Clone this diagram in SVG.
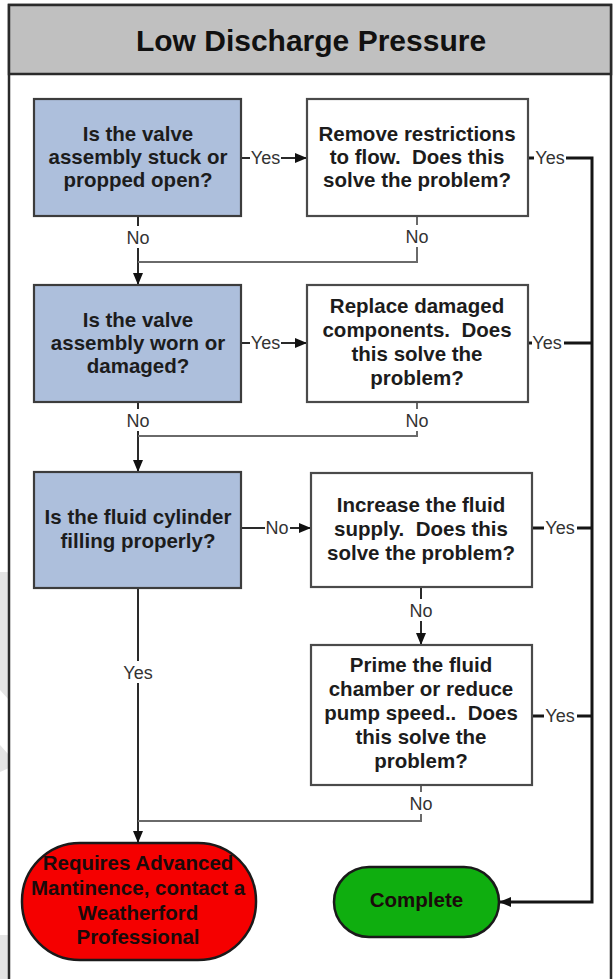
<svg xmlns="http://www.w3.org/2000/svg" width="613" height="979" viewBox="0 0 613 979">
  <defs>
    <style>
      .frame { fill: #ffffff; stroke: #2a2a2a; stroke-width: 2.5; }
      .header { fill: #c0c0c0; stroke: #2a2a2a; stroke-width: 2.5; }
      .title { font-family: "Liberation Sans", Arial, sans-serif; font-weight: bold; font-size: 30px; fill: #111; text-anchor: middle; }
      .q { fill: #adbfdc; stroke: #3c3c3c; stroke-width: 2.2; }
      .act { fill: #ffffff; stroke: #4a4a4a; stroke-width: 2.2; }
      .red { fill: #f50000; stroke: #1a1a1a; stroke-width: 2.5; }
      .green { fill: #0fae0f; stroke: #1a1a1a; stroke-width: 2.5; }
      .nt { font-family: "Liberation Sans", Arial, sans-serif; font-weight: bold; font-size: 20.5px; fill: #1c1c1c; text-anchor: middle; white-space: pre; }
      .tt { font-family: "Liberation Sans", Arial, sans-serif; font-weight: bold; font-size: 20.5px; fill: #1a0a0a; text-anchor: middle; white-space: pre; }
      .conn { fill: none; stroke: #2a2a2a; stroke-width: 2; }
      .merge { fill: none; stroke: #6a6a6a; stroke-width: 2; }
      .main { fill: none; stroke: #151515; stroke-width: 3; }
      .lbg { fill: #ffffff; }
      .lbl { font-family: "Liberation Sans", Arial, sans-serif; font-size: 18px; fill: #333; text-anchor: middle; }
      .art { fill: #e4e4e4; }
    </style>
    <marker id="arr" viewBox="0 0 12 10" refX="12" refY="5" markerWidth="12" markerHeight="10" orient="auto" markerUnits="userSpaceOnUse">
      <path d="M0,0 L12,5 L0,10 z" fill="#111"/>
    </marker>
  </defs>

  <!-- background artifacts at left edge -->
  <polygon class="art" points="0,572 9,572 9,700 0,690"/>
  <polygon class="art" points="0,745 9,755 9,768 0,772"/>
  <rect class="art" x="0" y="935" width="9" height="44"/>

  <!-- frame and header -->
  <g id="frame">
    <path class="frame" d="M9,990 V5 H611 V990"/>
    <rect class="header" x="9" y="5" width="602" height="69"/>
    <text class="title" x="311" y="51">Low Discharge Pressure</text>
  </g>

  <!-- connectors -->
  <g id="connectors">
    <path class="conn" d="M241,158 H307" marker-end="url(#arr)"/>
    <path class="main" d="M528,158 H592 V902 H499" marker-end="url(#arr)"/>
    <path class="main" d="M528,343 H592"/>
    <path class="main" d="M532,528 H592"/>
    <path class="main" d="M532,716 H592"/>
    <path class="conn" d="M138,216 V285" marker-end="url(#arr)"/>
    <path class="merge" d="M417,216 V262 H138"/>
    <path class="conn" d="M241,343 H307" marker-end="url(#arr)"/>
    <path class="conn" d="M138,402 V472" marker-end="url(#arr)"/>
    <path class="merge" d="M417,402 V436 H138"/>
    <path class="conn" d="M241,528 H311" marker-end="url(#arr)"/>
    <path class="conn" d="M138,588 V843" marker-end="url(#arr)"/>
    <path class="conn" d="M421,587 V645" marker-end="url(#arr)"/>
    <path class="merge" d="M421,785 V821 H138"/>

    <!-- labels -->
    <rect class="lbg" x="250" y="149" width="31" height="18"/>
    <text class="lbl" x="265.5" y="164">Yes</text>
    <rect class="lbg" x="534" y="149" width="32" height="18"/>
    <text class="lbl" x="550" y="164">Yes</text>
    <rect class="lbg" x="250" y="334" width="31" height="18"/>
    <text class="lbl" x="265.5" y="349">Yes</text>
    <rect class="lbg" x="532" y="334" width="32" height="18"/>
    <text class="lbl" x="547" y="349">Yes</text>
    <rect class="lbg" x="265" y="519" width="25" height="18"/>
    <text class="lbl" x="277" y="534">No</text>
    <rect class="lbg" x="544" y="519" width="33" height="18"/>
    <text class="lbl" x="560" y="534">Yes</text>
    <rect class="lbg" x="544" y="707" width="33" height="18"/>
    <text class="lbl" x="560" y="722">Yes</text>
    <rect class="lbg" x="124" y="226" width="28" height="22"/>
    <text class="lbl" x="138" y="244">No</text>
    <rect class="lbg" x="403" y="225" width="28" height="22"/>
    <text class="lbl" x="417" y="243">No</text>
    <rect class="lbg" x="124" y="409" width="28" height="22"/>
    <text class="lbl" x="138" y="427">No</text>
    <rect class="lbg" x="403" y="409" width="28" height="22"/>
    <text class="lbl" x="417" y="427">No</text>
    <rect class="lbg" x="407" y="599" width="28" height="22"/>
    <text class="lbl" x="421" y="617">No</text>
    <rect class="lbg" x="121" y="661" width="34" height="22"/>
    <text class="lbl" x="138" y="679">Yes</text>
    <rect class="lbg" x="407" y="792" width="28" height="22"/>
    <text class="lbl" x="421" y="810">No</text>
  </g>

  <!-- nodes -->
  <g id="q1">
    <rect class="q" x="34" y="99" width="207" height="117"/>
    <text class="nt" x="138" y="141">Is the valve</text>
    <text class="nt" x="138" y="164">assembly stuck or</text>
    <text class="nt" x="138" y="187">propped open?</text>
  </g>
  <g id="a1">
    <rect class="act" x="307" y="99" width="221" height="117"/>
    <text class="nt" x="417" y="141">Remove restrictions</text>
    <text class="nt" x="417" y="164" xml:space="preserve">to flow.  Does this</text>
    <text class="nt" x="417" y="187">solve the problem?</text>
  </g>
  <g id="q2">
    <rect class="q" x="34" y="285" width="207" height="117"/>
    <text class="nt" x="138" y="327">Is the valve</text>
    <text class="nt" x="138" y="350">assembly worn or</text>
    <text class="nt" x="138" y="373">damaged?</text>
  </g>
  <g id="a2">
    <rect class="act" x="307" y="285" width="221" height="117"/>
    <text class="nt" x="417" y="313">Replace damaged</text>
    <text class="nt" x="417" y="337" xml:space="preserve">components.  Does</text>
    <text class="nt" x="417" y="361">this solve the</text>
    <text class="nt" x="417" y="385">problem?</text>
  </g>
  <g id="q3">
    <rect class="q" x="34" y="472" width="207" height="116"/>
    <text class="nt" x="138" y="524">Is the fluid cylinder</text>
    <text class="nt" x="138" y="548">filling properly?</text>
  </g>
  <g id="a3">
    <rect class="act" x="311" y="473" width="221" height="114"/>
    <text class="nt" x="421" y="512">Increase the fluid</text>
    <text class="nt" x="421" y="536" xml:space="preserve">supply.  Does this</text>
    <text class="nt" x="421" y="560">solve the problem?</text>
  </g>
  <g id="a4">
    <rect class="act" x="311" y="645" width="221" height="140"/>
    <text class="nt" x="421" y="672">Prime the fluid</text>
    <text class="nt" x="421" y="696">chamber or reduce</text>
    <text class="nt" x="421" y="720" xml:space="preserve">pump speed..  Does</text>
    <text class="nt" x="421" y="744">this solve the</text>
    <text class="nt" x="421" y="768">problem?</text>
  </g>
  <g id="advanced">
    <rect class="red" x="22" y="843" width="234" height="117" rx="58" ry="58"/>
    <text class="tt" x="138" y="870">Requires Advanced</text>
    <text class="tt" x="138" y="895">Mantinence, contact a</text>
    <text class="tt" x="138" y="920">Weatherford</text>
    <text class="tt" x="138" y="944">Professional</text>
  </g>
  <g id="complete">
    <rect class="green" x="334" y="867" width="165" height="70" rx="35" ry="35"/>
    <text class="tt" x="416.5" y="907">Complete</text>
  </g>
</svg>
